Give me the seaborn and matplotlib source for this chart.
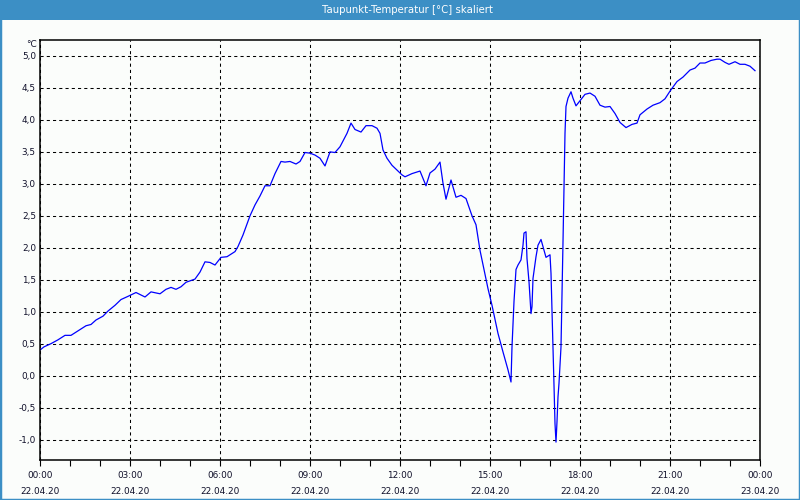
import matplotlib
matplotlib.use("Agg")
import matplotlib.pyplot as plt
import seaborn as sns
import pandas as pd
from matplotlib.patches import Rectangle

# ---------------- data ----------------
minutes = [0, 8, 22, 36, 50, 62, 76, 92, 102, 112, 126, 136, 150, 162, 176, 192, 210, 222, 240, 252,
           262, 272, 282, 292, 310, 320, 330, 340, 350, 362, 374, 390, 396, 406, 420, 430, 440, 450, 460, 470,
           482, 490, 500, 512, 520, 530, 540, 550, 560, 570, 580, 590, 600, 614, 622, 630, 642, 652, 664, 674,
           680, 686, 694, 704, 724, 730, 744, 760, 772, 780, 790, 800, 806, 812, 822, 832, 842, 852, 864, 872,
           880, 890, 896, 904, 916, 926, 936, 942, 944, 946, 948, 952, 956, 962, 966, 968, 972, 974, 978, 982,
           984, 986, 992, 996, 1002, 1006, 1012, 1020, 1022, 1024, 1026, 1028, 1030, 1032, 1034, 1036, 1038, 1042, 1044, 1046,
           1048, 1050, 1052, 1056, 1062, 1066, 1072, 1080, 1090, 1100, 1110, 1120, 1130, 1140, 1150, 1160, 1172, 1184, 1194, 1200,
           1214, 1226, 1240, 1250, 1260, 1274, 1286, 1300, 1310, 1320, 1330, 1342, 1354, 1360, 1370, 1378, 1390, 1400, 1410, 1420,
           1430]
dew_point = [0.40, 0.45, 0.50, 0.56, 0.63, 0.63, 0.70, 0.78, 0.80, 0.87, 0.93, 1.01, 1.10, 1.19, 1.24, 1.30, 1.23, 1.31, 1.28, 1.35,
             1.38, 1.35, 1.39, 1.46, 1.51, 1.62, 1.78, 1.77, 1.73, 1.85, 1.86, 1.94, 2.02, 2.20, 2.50, 2.67, 2.81, 2.97, 2.97, 3.16,
             3.35, 3.34, 3.35, 3.31, 3.35, 3.49, 3.48, 3.45, 3.40, 3.28, 3.50, 3.49, 3.58, 3.79, 3.95, 3.85, 3.81, 3.91, 3.91, 3.87,
             3.79, 3.53, 3.40, 3.29, 3.14, 3.11, 3.16, 3.20, 2.97, 3.17, 3.23, 3.34, 3.01, 2.76, 3.06, 2.79, 2.82, 2.77, 2.50, 2.36,
             1.96, 1.58, 1.36, 1.10, 0.66, 0.37, 0.09, -0.10, 0.45, 0.79, 1.16, 1.66, 1.73, 1.81, 2.04, 2.23, 2.25, 1.83, 1.47, 0.97,
             1.08, 1.52, 1.86, 2.04, 2.13, 2.02, 1.85, 1.89, 1.60, 1.03, 0.43, -0.15, -0.75, -1.04, -0.72, -0.33, -0.12, 0.45, 1.23, 2.09,
             2.93, 3.79, 4.21, 4.34, 4.44, 4.34, 4.22, 4.30, 4.40, 4.42, 4.37, 4.23, 4.20, 4.21, 4.10, 3.96, 3.88, 3.93, 3.95, 4.08,
             4.17, 4.23, 4.27, 4.33, 4.45, 4.60, 4.67, 4.78, 4.81, 4.89, 4.89, 4.93, 4.95, 4.95, 4.90, 4.87, 4.91, 4.87, 4.87, 4.84,
             4.77]

x_tick_hours = [0, 3, 6, 9, 12, 15, 18, 21, 24]
x_tick_labels = ["00:00\n22.04.20", "03:00\n22.04.20", "06:00\n22.04.20", "09:00\n22.04.20",
                 "12:00\n22.04.20", "15:00\n22.04.20", "18:00\n22.04.20", "21:00\n22.04.20",
                 "00:00\n23.04.20"]
y_ticks = [-1.0, -0.5, 0.0, 0.5, 1.0, 1.5, 2.0, 2.5, 3.0, 3.5, 4.0, 4.5, 5.0]
y_tick_labels = ["-1,0", "-0,5", "0,0", "0,5", "1,0", "1,5", "2,0", "2,5", "3,0", "3,5", "4,0", "4,5", "5,0"]
title = "Taupunkt-Temperatur [°C] skaliert"
unit_label = "°C"

# ---------------- plot ----------------
bg = "#fbfdfb"
frame_blue = "#3c8fc5"
text_col = "#10102a"

plt.rcParams["font.family"] = ["DejaVu Sans"]

df = pd.DataFrame({"hours": [m / 60 for m in minutes], "value": dew_point})

fig = plt.figure(figsize=(8, 5), dpi=100, facecolor=bg)
ax = fig.add_axes([40 / 800, 40 / 500, 720 / 800, 420 / 500])
ax.set_facecolor(bg)

sns.lineplot(data=df, x="hours", y="value", ax=ax, color="#0000ff",
             linewidth=0.9, estimator=None, sort=False)

ax.set_xlim(0, 24)
ax.set_ylim(-1.32, 5.25)
ax.set_xlabel("")
ax.set_ylabel("")

ax.set_xticks(x_tick_hours)
ax.set_xticklabels(x_tick_labels, fontsize=6.4, linespacing=2.0, color=text_col)
ax.set_xticks(range(25), minor=True)
ax.tick_params(axis="x", which="both", direction="out", length=4, width=0.8, pad=3.8, color="black")

ax.set_yticks(y_ticks)
ax.set_yticklabels(y_tick_labels, fontsize=6.4, color=text_col)
ax.tick_params(axis="y", length=0, pad=3)

ax.grid(True, which="major", color="black", linestyle=(0, (3, 3)), linewidth=0.75)

for s in ax.spines.values():
    s.set_color("black")
    s.set_linewidth(1.1)

ax.text(-0.004, 1.0, unit_label, transform=ax.transAxes, ha="right", va="top",
        fontsize=6.4, color=text_col)

# title bar and window frame
fig.add_artist(Rectangle((0, 0.96), 1, 0.04, transform=fig.transFigure,
                         facecolor=frame_blue, edgecolor="none"))
fig.add_artist(Rectangle((0, 0), 1, 1, transform=fig.transFigure, fill=False,
                         edgecolor=frame_blue, linewidth=2.5))
fig.text(0.51, 0.98, title, ha="center", va="center", color="white", fontsize=7.3)

fig.savefig("out.png", dpi=100, facecolor=bg)
